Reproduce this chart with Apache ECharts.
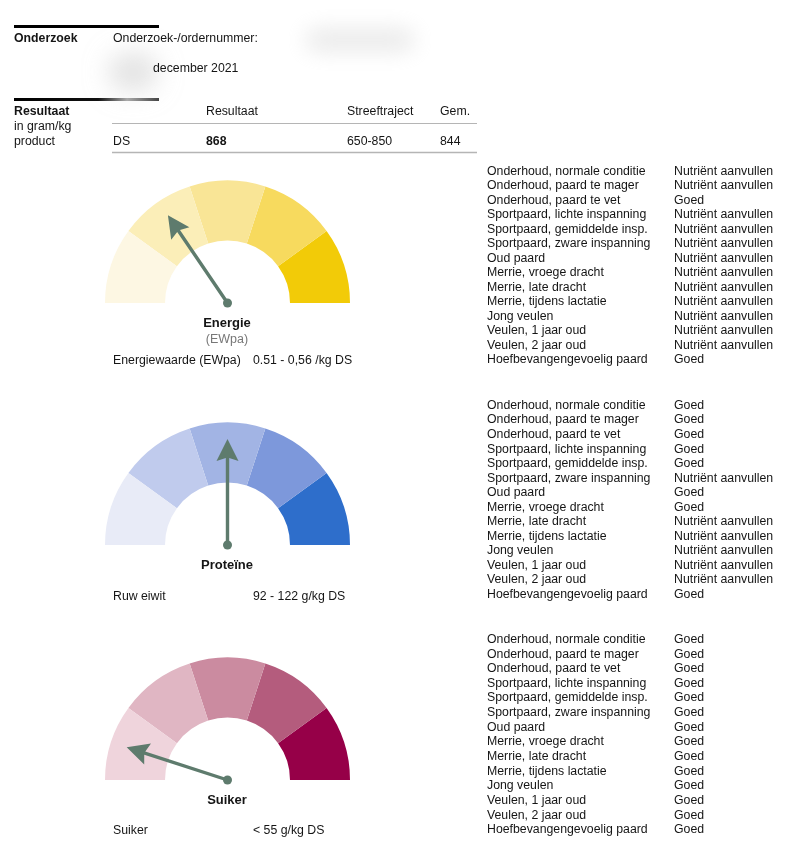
<!DOCTYPE html>
<html>
<head>
<meta charset="utf-8">
<script src="https://cdn.jsdelivr.net/npm/echarts@6/dist/echarts.min.js"></script>
<style>
html,body{margin:0;padding:0;background:#fff;}
#chart{width:800px;height:862px;}
</style>
</head>
<body>
<div id="chart"></div>
<script>
// ---- data ----
const gaugeNames = ['Energie', 'Proteïne', 'Suiker'];
const gaugeSubtitles = ['(EWpa)', '', ''];
const gaugeValues = [31, 50, 10];
const gaugeColors = [
  ['#fdf7e3', '#fbeeb8', '#f9e596', '#f7da5e', '#f2cb08'],
  ['#e8ebf7', '#c0cbed', '#a2b4e4', '#7d98db', '#2e6ecb'],
  ['#efd4dc', '#e0b6c3', '#cb8ba0', '#b45c7d', '#960048']
];
const nutrientLabels = ['Energiewaarde (EWpa)', 'Ruw eiwit', 'Suiker'];
const targetRanges = ['0.51 - 0,56 /kg DS', '92 - 122 g/kg DS', '< 55 g/kg DS'];
const rowLabels = [
  'Onderhoud, normale conditie', 'Onderhoud, paard te mager', 'Onderhoud, paard te vet',
  'Sportpaard, lichte inspanning', 'Sportpaard, gemiddelde insp.', 'Sportpaard, zware inspanning',
  'Oud paard', 'Merrie, vroege dracht', 'Merrie, late dracht', 'Merrie, tijdens lactatie',
  'Jong veulen', 'Veulen, 1 jaar oud', 'Veulen, 2 jaar oud', 'Hoefbevangengevoelig paard'
];
const N = 'Nutriënt aanvullen', G = 'Goed';
const statusEnergie = [N, N, G, N, N, N, N, N, N, N, N, N, N, G];
const statusProteine = [G, G, G, G, G, N, G, G, N, N, N, N, N, G];
const statusSuiker = [G, G, G, G, G, G, G, G, G, G, G, G, G, G];
const statuses = [statusEnergie, statusProteine, statusSuiker];
const resultHeaders = ['Resultaat', 'Streeftraject', 'Gem.'];
const resultRow = ['DS', '868', '650-850', '844'];

// ---- layout ----
const FONT = '"Liberation Sans", Arial, sans-serif';
const TXT = '#151515';
const FS = 12.3;
const gaugeCenters = [[227.5, 303], [227.5, 545], [227.5, 780]];
const titleY = [323, 565, 800];
const infoY = [361, 597, 831];
const tableTop = [171.5, 405.5, 639.5];
const tableStep = [14.5, 14.55, 14.65];

function txt(x, y, s, opt) {
  opt = opt || {};
  return {
    type: 'text', x: x, y: y, silent: true,
    style: {
      text: s, fill: opt.fill || TXT,
      font: (opt.bold ? 'bold ' : '') + (opt.size || FS) + 'px ' + FONT,
      textAlign: opt.align || 'left', textVerticalAlign: 'middle'
    }
  };
}
// soft blurred patch: only the shadow of an off-screen shape is visible
function blur(x, y, w, h, color, b) {
  return { type: 'rect', silent: true, shape: { x: x - 3000, y: y, width: w, height: h, r: Math.min(w, h) / 2 },
    style: { fill: '#fff', shadowBlur: b, shadowColor: color, shadowOffsetX: 3000 } };
}

const graphics = [];
graphics.push(blur(306, 30, 108, 20, 'rgba(215,215,215,0.6)', 22));
graphics.push(blur(108, 52, 50, 40, 'rgba(205,205,205,0.55)', 24));
// top rules
graphics.push({ type: 'rect', shape: { x: 14, y: 25, width: 145, height: 3 }, style: { fill: '#000' }, silent: true });
graphics.push({ type: 'rect', shape: { x: 14, y: 98, width: 145, height: 3 }, silent: true,
  style: { fill: new echarts.graphic.LinearGradient(0, 0, 1, 0, [
    { offset: 0, color: '#000' }, { offset: 0.58, color: '#111' },
    { offset: 0.78, color: '#aaa' }, { offset: 1, color: '#444' }]) } });
// header texts
graphics.push(txt(14, 39, 'Onderzoek', { bold: true }));
graphics.push(txt(113, 39, 'Onderzoek-/ordernummer:'));
graphics.push(txt(153, 69, 'december 2021'));
graphics.push(txt(14, 112, 'Resultaat', { bold: true }));
graphics.push(txt(14, 127, 'in gram/kg'));
graphics.push(txt(14, 142, 'product'));
const colX = [206, 347, 440];
resultHeaders.forEach((h, i) => graphics.push(txt(colX[i], 112, h)));
graphics.push(txt(113, 142, resultRow[0]));
graphics.push(txt(206, 142, resultRow[1], { bold: true }));
graphics.push(txt(347, 142, resultRow[2]));
graphics.push(txt(440, 142, resultRow[3]));
graphics.push({ type: 'line', shape: { x1: 112, y1: 123.5, x2: 477, y2: 123.5 }, style: { stroke: '#b5b5b5', lineWidth: 1 }, silent: true });
graphics.push({ type: 'line', shape: { x1: 112, y1: 152.5, x2: 477, y2: 152.5 }, style: { stroke: '#b5b5b5', lineWidth: 1.5 }, silent: true });

// gauge captions and tables
gaugeNames.forEach((name, g) => {
  graphics.push(txt(227, titleY[g], name, { bold: true, size: 13, align: 'center' }));
  if (gaugeSubtitles[g]) graphics.push(txt(227, titleY[g] + 17, gaugeSubtitles[g], { fill: '#777', size: 12.5, align: 'center' }));
  graphics.push(txt(113, infoY[g], nutrientLabels[g]));
  graphics.push(txt(253, infoY[g], targetRanges[g]));
  rowLabels.forEach((lab, r) => {
    const y = tableTop[g] + r * tableStep[g];
    graphics.push(txt(487, y, lab));
    graphics.push(txt(674, y, statuses[g][r]));
  });
});

const pointerPath = 'path://M11,0 L22,22 L12.7,19 L12.7,106 L9.3,106 L9.3,19 L0,22 Z';
const series = gaugeNames.map((name, g) => ({
  type: 'gauge',
  name: name,
  center: gaugeCenters[g],
  radius: 122.5,
  startAngle: 180,
  endAngle: 0,
  min: 0,
  max: 100,
  animation: false,
  axisLine: {
    lineStyle: {
      width: 60,
      color: gaugeColors[g].map((c, i) => [(i + 1) / gaugeColors[g].length, c])
    }
  },
  splitLine: { show: false },
  axisTick: { show: false },
  axisLabel: { show: false },
  pointer: {
    icon: pointerPath,
    length: 106,
    width: 22,
    offsetCenter: [0, 0],
    itemStyle: { color: '#5e7b6d' }
  },
  anchor: { show: true, showAbove: true, size: 9, itemStyle: { color: '#5e7b6d' } },
  title: { show: false },
  detail: { show: false },
  data: [{ value: gaugeValues[g], name: name }]
}));

const chart = echarts.init(document.getElementById('chart'), null, { renderer: 'canvas' });
chart.setOption({
  backgroundColor: '#fff',
  animation: false,
  series: series,
  graphic: { elements: graphics }
});
</script>
</body>
</html>
